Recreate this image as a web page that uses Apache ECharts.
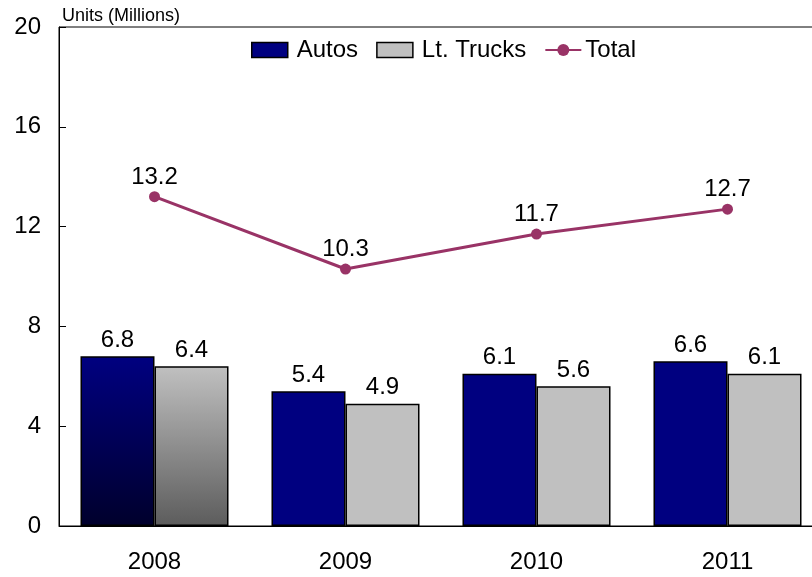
<!DOCTYPE html>
<html>
<head>
<meta charset="utf-8">
<script src="https://cdn.jsdelivr.net/npm/echarts@6/dist/echarts.min.js"></script>
<style>
  html, body { margin: 0; padding: 0; overflow: hidden; background: #fff; }
  #chart { width: 823px; height: 577px; }
</style>
</head>
<body>
<div id="chart"></div>
<script>
const years = ['2008', '2009', '2010', '2011']
const autos = [6.8, 5.4, 6.1, 6.6]
const trucks = [6.4, 4.9, 5.6, 6.1]
const total = [13.2, 10.3, 11.7, 12.7]
const yTicks = [0, 4, 8, 12, 16, 20]

const font = 'Liberation Sans, Arial, sans-serif'

// first year's bars are shaded top to bottom
const autoGrad = new echarts.graphic.LinearGradient(0, 0, 0, 1, [
    { offset: 0, color: '#000080' },
    { offset: 1, color: '#00002c' }
])
const truckGrad = new echarts.graphic.LinearGradient(0, 0, 0, 1, [
    { offset: 0, color: '#c0c0c0' },
    { offset: 1, color: '#5c5c5c' }
])

const chart = echarts.init(document.getElementById('chart'))

const option = {
    animation: false,
    textStyle: { fontFamily: font },
    grid: {
        left: 59, right: 0, top: 27, bottom: 51,
        show: true, borderColor: '#000', borderWidth: 1
    },
    title: {
        text: 'Units (Millions)',
        left: 57, top: 2,
        textStyle: { fontSize: 18, fontWeight: 'normal', color: '#000', fontFamily: font }
    },
    legend: {
        top: 33, left: 246,
        itemWidth: 36, itemHeight: 15, itemGap: 18,
        textStyle: { fontSize: 24, color: '#000', fontFamily: font, padding: [0, 0, 0, 4] },
        data: [
            { name: 'Autos', icon: 'rect', itemStyle: { color: '#000080', borderColor: '#000', borderWidth: 1.5 } },
            { name: 'Lt. Trucks', icon: 'rect', itemStyle: { color: '#c0c0c0', borderColor: '#000', borderWidth: 1.5 } },
            { name: 'Total', textStyle: { padding: [0, 0, 0, -1] } }
        ]
    },
    xAxis: {
        type: 'category',
        data: years,
        axisLine: { lineStyle: { color: '#000' } },
        axisTick: { show: false },
        axisLabel: { fontSize: 24, color: '#000', margin: 24, fontFamily: font }
    },
    yAxis: {
        type: 'value',
        min: 0, max: 20, interval: 4,
        splitLine: { show: false },
        axisLine: { show: true, lineStyle: { color: '#000' } },
        axisTick: { show: true, inside: true, length: 7, lineStyle: { color: '#000' } },
        axisLabel: {
            fontSize: 24, color: '#000', margin: 18, fontFamily: font,
            formatter: v => yTicks.includes(v) ? String(v) : ''
        }
    },
    series: [
        {
            name: 'Autos',
            type: 'bar',
            barGap: '0%',
            barCategoryGap: '22.5%',
            data: autos.map((v, i) => i === 0 ? { value: v, itemStyle: { color: autoGrad } } : v),
            itemStyle: { color: '#000080', borderColor: '#000', borderWidth: 1.5 },
            label: { show: true, position: 'top', fontSize: 24, color: '#000', distance: 4, fontFamily: font }
        },
        {
            name: 'Lt. Trucks',
            type: 'bar',
            data: trucks.map((v, i) => i === 0 ? { value: v, itemStyle: { color: truckGrad } } : v),
            itemStyle: { color: '#c0c0c0', borderColor: '#000', borderWidth: 1.5 },
            label: { show: true, position: 'top', fontSize: 24, color: '#000', distance: 4, fontFamily: font }
        },
        {
            name: 'Total',
            type: 'line',
            data: total,
            symbol: 'circle',
            symbolSize: 11,
            lineStyle: { color: '#993366', width: 3 },
            itemStyle: { color: '#993366' },
            label: { show: true, position: 'top', fontSize: 24, color: '#000', distance: 2, fontFamily: font }
        }
    ]
}

chart.setOption(option)
</script>
</body>
</html>
